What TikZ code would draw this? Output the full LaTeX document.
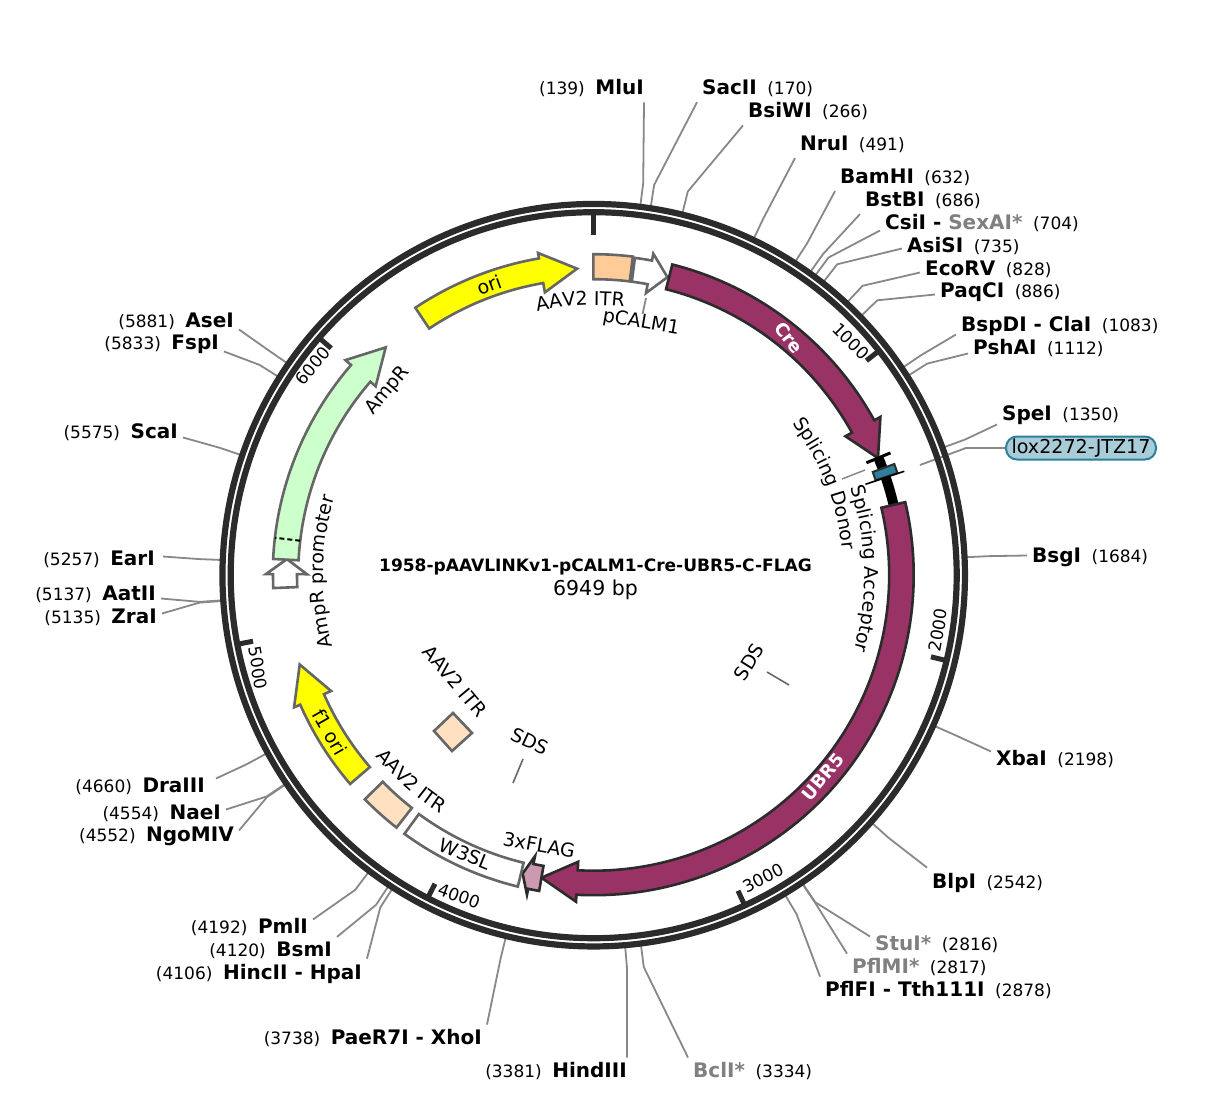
\documentclass[tikz,border=0pt]{standalone}
\usepackage{fontspec}
\setmainfont{DejaVu Sans}
\usetikzlibrary{decorations.text}
\definecolor{ringc}{HTML}{2B2B2B}
\definecolor{leadc}{HTML}{888888}
\definecolor{edgeg}{HTML}{666666}
\definecolor{crec}{HTML}{993366}
\definecolor{itrd}{HTML}{FFCC99}
\definecolor{itrl}{HTML}{FFE0C0}
\definecolor{ampc}{HTML}{CCFFCC}
\definecolor{flagc}{HTML}{CC99B2}
\definecolor{loxf}{HTML}{A9CDD8}
\definecolor{loxs}{HTML}{2E7F9B}
\definecolor{grayn}{HTML}{808080}
\definecolor{yelc}{HTML}{FFFF00}
\newcommand\lblfont{\fontsize{19}{21}\selectfont}
\newcommand\sitebf{\fontsize{20}{21}\selectfont\bfseries}
\newcommand\sitenm{\fontsize{17}{21}\selectfont\mdseries}
\tikzset{
  sitelabel/.style={inner sep=5pt,text=black},
  leader/.style={draw=leadc,line width=1.8pt},
  featgray/.style={draw=edgeg,line width=2.6pt,line join=miter},
  featdark/.style={draw=ringc,line width=2.6pt,fill=crec,line join=miter},
  lbl/.style={font=\lblfont,inner sep=0pt},
  ticklbl/.style={font=\fontsize{17}{18}\selectfont,inner sep=0pt},
  tickm/.style={draw=ringc,line width=5pt},
}
% leader from ring through the elbow to a label
\newcommand\lead[3]{%
  \pgfmathsetmacro\ang{90-#2/6949*360}%
  \coordinate (r#1) at ([shift={(593.7,-575.2)}]\ang:372);
  \coordinate (e#1) at ([shift={(593.7,-575.2)}]\ang:395);
  \draw[leader] (r#1) -- (e#1) -- (#3);}
% label on the right: name then number; x is the start of the text
\newcommand\siteR[7]{%
  \node[sitelabel,anchor=west] (#1) at (#3-5,-#4-1.5) {\sitebf #5\hspace{10.5pt}\sitenm (#6)};
  \lead{#1}{#2}{#7}}
% label on the left: number then name; x is the end of the text
\newcommand\siteL[7]{%
  \node[sitelabel,anchor=east] (#1) at (#3+5,-#4-1.5) {\sitenm (#6)\hspace{10.5pt}\sitebf #5};
  \lead{#1}{#2}{#7}}
% arrow feature: style, tail, shoulder, tip (degrees clockwise from top), shaft radii, head radii
\newcommand\featarrow[8]{%
  \pgfmathsetmacro\aa{90-#2}\pgfmathsetmacro\ab{90-#3}\pgfmathsetmacro\ac{90-#4}%
  \pgfmathsetmacro\rt{(#7+#8)/2}%
  \path[#1] (\aa:#5) arc[start angle=\aa,end angle=\ab,radius=#5] -- (\ab:#7) -- (\ac:\rt) -- (\ab:#8) -- (\ab:#6) arc[start angle=\ab,end angle=\aa,radius=#6] -- cycle;}
% box feature
\newcommand\featbox[5]{%
  \pgfmathsetmacro\aa{90-#2}\pgfmathsetmacro\ab{90-#3}%
  \path[#1] (\aa:#4) arc[start angle=\aa,end angle=\ab,radius=#4] -- (\ab:#5) arc[start angle=\ab,end angle=\aa,radius=#5] -- cycle;}
% text following an arc
\newcommand\arctext[4]{%
  \pgfmathsetmacro\aa{90-#1}\pgfmathsetmacro\ab{90-#2}%
  \path[decorate,decoration={text along path,text={|\lblfont|#4},text align=center}] (\aa:#3) arc[start angle=\aa,end angle=\ab,radius=#3];}
\newcommand\radline[4]{%
  \pgfmathsetmacro\aa{90-#2}%
  \draw[#1] (\aa:#3) -- (\aa:#4);}
\begin{document}
\begin{tikzpicture}[x=1pt,y=1pt]
\useasboundingbox (0,0) rectangle (1212,-1102);
\fill[white] (0,0) rectangle (1212,-1102);

% restriction sites, right side
\siteR{sacII}{170}{702}{87}{SacII}{170}{sacII.south west}
\siteR{bsiWI}{266}{748}{110}{BsiWI}{266}{bsiWI.south west}
\siteR{nruI}{491}{800}{143}{NruI}{491}{nruI.south west}
\siteR{bamHI}{632}{840}{176}{BamHI}{632}{bamHI.south west}
\siteR{bstBI}{686}{865}{199}{BstBI}{686}{bstBI.south west}
\siteR{csiI}{704}{885}{222}{CsiI - {\color{grayn}SexAI*}}{704}{[yshift=-7pt]csiI.west}
\siteR{asiSI}{735}{907}{245}{AsiSI}{735}{[yshift=-2pt]asiSI.west}
\siteR{ecoRV}{828}{925}{268}{EcoRV}{828}{[yshift=-3pt]ecoRV.west}
\siteR{paqCI}{886}{940}{291}{PaqCI}{886}{[yshift=-2pt]paqCI.west}
\siteR{bspDI}{1083}{961}{324}{BspDI - ClaI}{1083}{[yshift=-9pt]bspDI.west}
\siteR{pshAI}{1112}{973}{347}{PshAI}{1112}{[yshift=-5pt]pshAI.west}
\siteR{speI}{1350}{1002}{414}{SpeI}{1350}{[yshift=-9pt]speI.west}
\siteR{bsgI}{1684}{1032}{556}{BsgI}{1684}{[yshift=2pt]bsgI.west}
\siteR{xbaI}{2198}{996}{758}{XbaI}{2198}{[yshift=8pt]xbaI.west}
\siteR{blpI}{2542}{932}{881}{BlpI}{2542}{blpI.north west}
\siteR{stuI}{2816}{875}{943}{{\color{grayn}StuI*}}{2816}{[yshift=8pt]stuI.west}
\siteR{pflMI}{2817}{852}{966}{{\color{grayn}PflMI*}}{2817}{pflMI.north west}
\siteR{pflFI}{2878}{825}{989}{PflFI - Tth111I}{2878}{pflFI.north west}
\siteR{bclI}{3334}{693}{1070}{{\color{grayn}BclI*}}{3334}{bclI.north west}
% restriction sites, left side
\siteL{mluI}{139}{644}{87}{MluI}{139}{[xshift=-5pt]mluI.south east}
\siteL{hindIII}{3381}{627}{1070}{HindIII}{3381}{[xshift=-5pt]hindIII.north east}
\siteL{paeR}{3738}{482}{1037}{PaeR7I - XhoI}{3738}{paeR.north east}
\siteL{hincII}{4106}{362}{972}{HincII - HpaI}{4106}{hincII.north east}
\siteL{bsmI}{4120}{332}{949}{BsmI}{4120}{bsmI.north east}
\siteL{pmlI}{4192}{308}{926}{PmlI}{4192}{[yshift=8pt]pmlI.east}
\siteL{ngoMIV}{4552}{234}{835}{NgoMIV}{4552}{[yshift=6pt]ngoMIV.east}
\siteL{naeI}{4554}{221}{812}{NaeI}{4554}{[yshift=4pt]naeI.east}
\siteL{draIII}{4660}{205}{785}{DraIII}{4660}{[xshift=6pt,yshift=8pt]draIII.east}
\siteL{zraI}{5135}{157}{616}{ZraI}{5135}{[yshift=4pt]zraI.east}
\siteL{aatII}{5137}{156}{593}{AatII}{5137}{[yshift=-4pt]aatII.east}
\siteL{earI}{5257}{155}{558}{EarI}{5257}{[xshift=3pt,yshift=3pt]earI.east}
\siteL{scaI}{5575}{178}{431}{ScaI}{5575}{[yshift=-5pt]scaI.east}
\siteL{fspI}{5833}{219}{343}{FspI}{5833}{[yshift=-7pt]fspI.east}
\siteL{aseI}{5881}{234}{320}{AseI}{5881}{[yshift=-8pt]aseI.east}

% lox2272 pill and its connector
\node[draw=loxs,fill=loxf,line width=2pt,rounded corners=11pt,minimum width=150pt,minimum height=23pt,inner sep=0pt,font=\fontsize{19.1}{22}\selectfont] (lox) at (1081,-448) {lox2272-JTZ17};
\coordinate (loxa) at (920,-465);
\coordinate (loxb) at (966,-448);
\draw[leader] (loxa) -- (loxb) -- (lox.west);

\begin{scope}[shift={(593.7,-575.2)}]
% backbone rings
\draw[ringc,line width=6.2pt] (0,0) circle[radius=371.25];
\draw[ringc,line width=6.2pt] (0,0) circle[radius=363];
% numbered ticks
\radline{tickm}{0}{340}{361}
\radline{tickm}{51.81}{347}{361}
\radline{tickm}{103.61}{347}{361}
\radline{tickm}{155.42}{347}{361}
\radline{tickm}{207.22}{347}{361}
\radline{tickm}{259.03}{347}{361}
\radline{tickm}{310.84}{347}{361}

% features
\featarrow{featgray,fill=yelc}{-33.7}{-9.8}{-3.1}{296.5}{321.5}{287}{327}
\featbox{featgray,fill=itrd}{-0.05}{7}{296}{321}
\featarrow{featgray,fill=white}{7.4}{10.5}{13.9}{296}{320}{287}{327}
\featarrow{featdark}{14.2}{61.1}{67.6}{295}{320.5}{287.5}{327.5}
\draw[black,line width=10pt] (22.4:308) arc[start angle=22.4,end angle=13.2,radius=308];
\radline{black,line width=3pt}{67.6}{295}{321}
\featbox{draw=ringc,line width=2pt,fill=loxs}{69.7}{71.4}{297.5}{320.5}
\radline{black,line width=1.6pt}{71.5}{286.5}{327.5}
\featarrow{featdark}{76.8}{183.1}{189.8}{295.5}{320}{287}{327}
\featarrow{draw=ringc,line width=2.6pt,fill=flagc,line join=miter}{-170.2}{-168.2}{-166.6}{295}{320.4}{287}{326.4}
\featbox{featgray,fill=white}{-166.3}{-143.8}{296}{320.5}
\featbox{featgray,fill=itrl}{-142}{-134.4}{295.3}{320.3}
\featarrow{featgray,fill=yelc}{-130.6}{-113.8}{-106.9}{294.8}{320.8}{287}{327.5}
\featarrow{featgray,fill=white}{-92.3}{-89.8}{-87}{296.7}{320.7}{286.7}{327.7}
\featarrow{featgray,fill=ampc}{-87.1}{-49.1}{-42.4}{295.5}{321}{288.5}{328.5}
\radline{black,line width=2pt,dash pattern=on 5pt off 3pt}{-83.3}{295.5}{321}

% labels following the arcs
\arctext{-21.8}{16.2}{270}{AAV2 ITR}
\arctext{68.6}{108.6}{271}{Splicing Acceptor}
\arctext{48.4}{88.4}{250}{Splicing Donor}
\arctext{-110.3}{-68.3}{270.5}{AmpR promoter}
\arctext{-123}{-154}{283.3}{AAV2 ITR}
\end{scope}

% inner diamond
\coordinate (d1) at (453,-713);
\coordinate (d2) at (472,-733);
\coordinate (d3) at (452,-751);
\coordinate (d4) at (434,-731);
\draw[featgray,fill=itrl] (d1) -- (d2) -- (d3) -- (d4) -- cycle;

% short connectors
\node[lbl,rotate=-10] (pcalm) at (641,-323) {pCALM1};
\coordinate (pcalmf) at (646,-298);
\draw[leader] (pcalmf) -- (pcalm.north);
\coordinate (sd1) at (842,-479);
\coordinate (sd2) at (865,-470);
\draw[draw=leadc,line width=1.5pt] (sd1) -- (sd2);
\node[lbl,rotate=58] (sdsa) at (749,-662) {SDS};
\coordinate (sdsaf) at (767,-672);
\coordinate (sdsab) at (789,-685);
\draw[draw=edgeg,line width=1.6pt] (sdsaf) -- (sdsab);
\node[lbl,rotate=-25] (sdsb) at (530,-741) {SDS};
\coordinate (sdsbf) at (523,-759);
\coordinate (sdsbb) at (513,-783);
\draw[draw=edgeg,line width=1.6pt] (sdsbf) -- (sdsbb);

% labels
\node[lbl,rotate=-50] (itrin) at (455,-681) {AAV2 ITR};
\node[lbl,rotate=20] (orilbl) at (489,-285) {ori};
\node[lbl,rotate=-52,text=white,font=\fontsize{18}{20}\selectfont\bfseries] (crelbl) at (789,-338) {Cre};
\node[lbl,rotate=50,text=white,font=\fontsize{18}{20}\selectfont\bfseries] (ubrlbl) at (823,-777) {UBR5};
\node[lbl,rotate=-22] (w3) at (465,-854) {W3SL};
\node[lbl,rotate=-10] (flag) at (539,-845) {3xFLAG};
\node[lbl,rotate=-60] (f1) at (330,-732) {f1 ori};
\node[lbl,rotate=50] (amp) at (388,-391) {AmpR};
\node[ticklbl,rotate=-45] (t1) at (851,-341) {1000};
\node[ticklbl,rotate=80] (t2) at (938,-630) {2000};
\node[ticklbl,rotate=27] (t3) at (763,-878) {3000};
\node[ticklbl,rotate=-20] (t4) at (459,-896) {4000};
\node[ticklbl,rotate=-80] (t5) at (258,-668) {5000};
\node[ticklbl,rotate=50] (t6) at (313,-366) {6000};
\node[inner sep=0pt,font=\fontsize{17.05}{18}\selectfont\bfseries] (title) at (595.5,-567) {1958-pAAVLINKv1-pCALM1-Cre-UBR5-C-FLAG};
\node[inner sep=0pt,font=\fontsize{20.5}{22}\selectfont] (bp) at (595.5,-590) {6949 bp};
\end{tikzpicture}
\end{document}
